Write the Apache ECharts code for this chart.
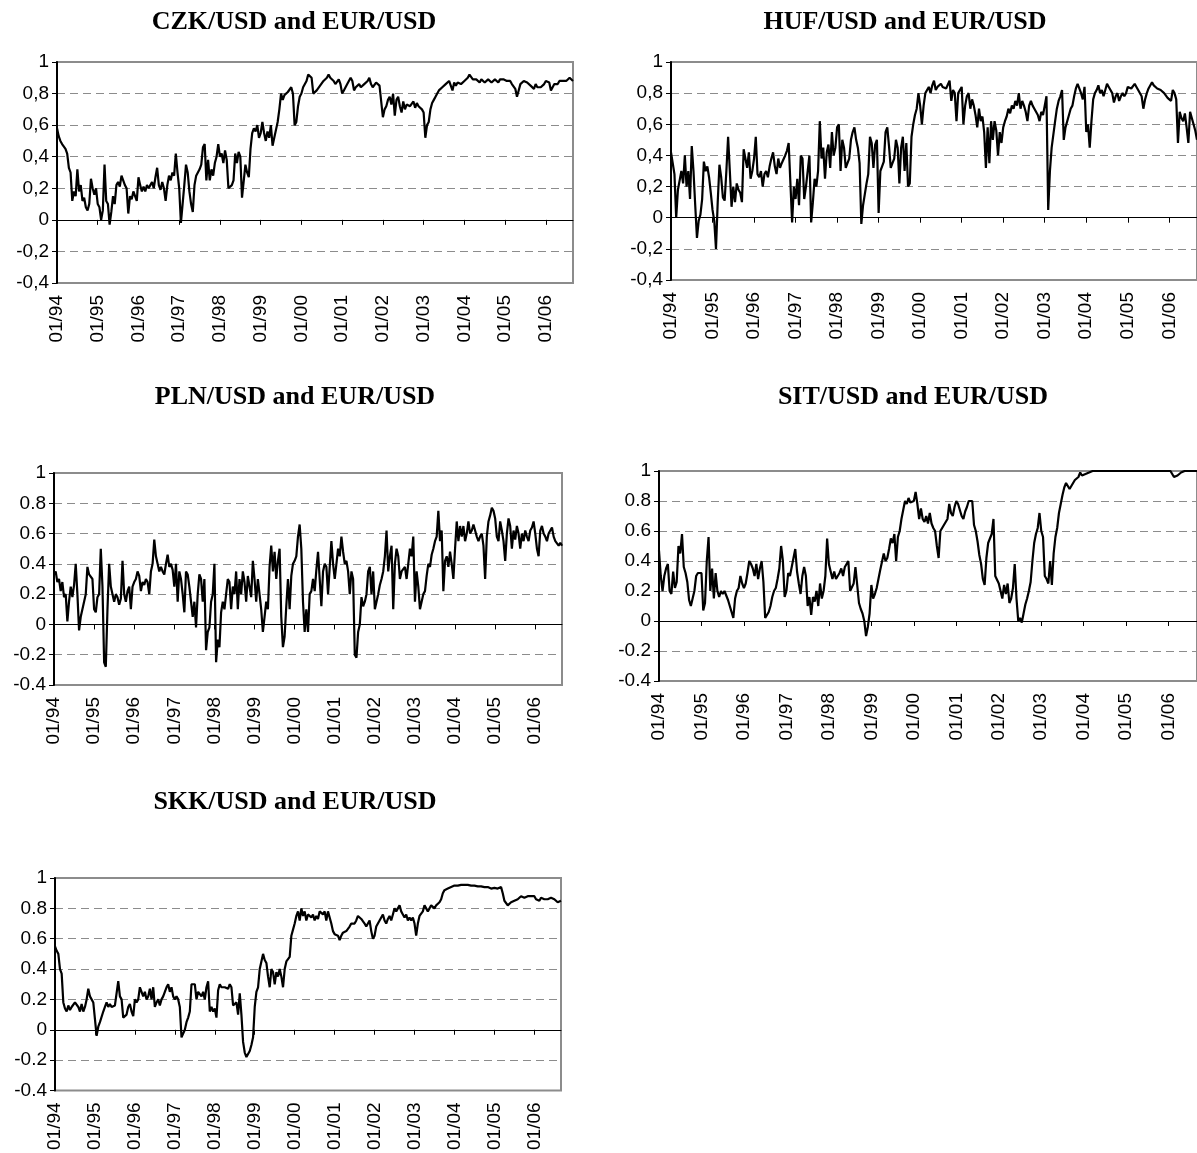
<!DOCTYPE html>
<html>
<head>
<meta charset="utf-8">
<script src="https://cdn.jsdelivr.net/npm/echarts@6/dist/echarts.min.js"></script>
<style>
  html, body { margin: 0; padding: 0; background: #fff; }
  #chart { width: 1197px; height: 1153px; }
</style>
</head>
<body>
<div id="chart"></div>
<script>
// Half-monthly rolling correlations with EUR/USD, Jan 1994 - Aug 2006
const START_YEAR = 1994;
const STEP = 1 / 24;
const END_YEAR = 2006 + 2 / 3;

const yearTicks = [1994, 1995, 1996, 1997, 1998, 1999, 2000, 2001, 2002, 2003, 2004, 2005, 2006];
const yearLabels = ['01/94', '01/95', '01/96', '01/97', '01/98', '01/99', '01/00', '01/01', '01/02', '01/03', '01/04', '01/05', '01/06'];

const czk = [
  0.58,0.53,0.50,0.48,0.47,0.45,0.42,0.33,0.30,0.12,0.18,0.15,0.32,0.18,0.22,0.12,0.14,0.08,0.06,0.10,0.26,0.20,0.16,0.20,
  0.10,0.08,0.00,0.06,0.35,0.12,0.10,-0.03,0.05,0.15,0.10,0.22,0.24,0.21,0.28,0.25,0.22,0.20,0.04,0.15,0.13,0.18,0.15,0.12,
  0.27,0.22,0.18,0.21,0.18,0.22,0.20,0.22,0.24,0.20,0.27,0.33,0.22,0.19,0.24,0.20,0.12,0.22,0.28,0.25,0.30,0.28,0.42,0.30,
  0.20,-0.02,0.10,0.22,0.35,0.30,0.18,0.10,0.05,0.22,0.28,0.30,0.32,0.35,0.46,0.48,0.25,0.38,0.25,0.32,0.28,0.36,0.40,0.48,
  0.40,0.42,0.36,0.44,0.38,0.20,0.19,0.22,0.25,0.42,0.36,0.43,0.40,0.14,0.13,0.35,0.30,0.27,0.45,0.55,0.58,0.56,0.60,0.52,
  0.55,0.62,0.55,0.50,0.56,0.52,0.60,0.47,0.52,0.57,0.62,0.70,0.80,0.76,0.79,0.78,0.81,0.80,0.84,0.80,0.60,0.62,0.72,0.78,
  0.80,0.84,0.85,0.88,0.92,0.91,0.90,0.80,0.79,0.82,0.81,0.85,0.86,0.88,0.87,0.90,0.92,0.90,0.91,0.88,0.86,0.87,0.89,0.86,
  0.80,0.82,0.84,0.86,0.85,0.90,0.88,0.82,0.84,0.83,0.86,0.84,0.83,0.86,0.85,0.88,0.90,0.86,0.84,0.85,0.87,0.86,0.85,0.86,
  0.65,0.70,0.72,0.76,0.78,0.73,0.80,0.66,0.76,0.78,0.72,0.68,0.75,0.70,0.73,0.74,0.72,0.73,0.75,0.71,0.74,0.72,0.73,0.70,
  0.68,0.52,0.60,0.62,0.70,0.74,0.76,0.78,0.80,0.82,0.83,0.84,0.85,0.86,0.85,0.88,0.89,0.82,0.87,0.85,0.87,0.88,0.86,0.87,
  0.88,0.87,0.90,0.92,0.91,0.89,0.88,0.89,0.88,0.87,0.89,0.88,0.87,0.88,0.89,0.88,0.87,0.88,0.89,0.88,0.87,0.89,0.88,0.89,
  0.90,0.88,0.87,0.88,0.86,0.87,0.83,0.78,0.82,0.86,0.87,0.88,0.89,0.87,0.86,0.85,0.84,0.83,0.86,0.84,0.85,0.84,0.85,0.86,
  0.88,0.89,0.87,0.82,0.83,0.86,0.87,0.86,0.88,0.87,0.88,0.87,0.88,0.89,0.90,0.89,0.88
];

const huf = [
  0.42,0.35,0.28,0.00,0.18,0.24,0.30,0.22,0.40,0.20,0.30,0.12,0.46,0.30,0.08,-0.13,-0.02,0.02,0.12,0.36,0.30,0.33,0.26,0.16,
  0.05,-0.02,-0.20,0.10,0.34,0.26,0.13,0.11,0.30,0.52,0.30,0.07,0.20,0.10,0.22,0.18,0.16,0.10,0.44,0.38,0.32,0.42,0.25,0.30,
  0.38,0.52,0.28,0.26,0.30,0.20,0.28,0.30,0.26,0.33,0.38,0.42,0.33,0.28,0.38,0.32,0.35,0.36,0.40,0.43,0.48,0.47,-0.03,0.20,
  0.12,0.25,0.08,0.40,0.38,0.12,0.20,0.30,0.40,-0.03,0.10,0.25,0.20,0.30,0.62,0.38,0.45,0.25,0.42,0.47,0.32,0.55,0.40,0.45,
  0.58,0.60,0.30,0.50,0.45,0.32,0.35,0.38,0.50,0.55,0.58,0.50,0.45,0.35,-0.04,0.08,0.15,0.22,0.28,0.52,0.48,0.32,0.47,0.50,
  0.03,0.30,0.33,0.36,0.55,0.58,0.46,0.32,0.35,0.38,0.50,0.45,0.22,0.45,0.52,0.30,0.48,0.20,0.22,0.52,0.60,0.66,0.70,0.80,
  0.72,0.60,0.72,0.80,0.82,0.84,0.80,0.85,0.88,0.82,0.84,0.85,0.86,0.84,0.85,0.83,0.83,0.88,0.75,0.82,0.80,0.62,0.80,0.82,
  0.84,0.60,0.72,0.78,0.80,0.70,0.76,0.72,0.66,0.58,0.70,0.62,0.65,0.55,0.32,0.58,0.35,0.62,0.50,0.62,0.56,0.40,0.55,0.48,
  0.58,0.62,0.65,0.70,0.67,0.72,0.70,0.75,0.72,0.80,0.70,0.75,0.72,0.68,0.62,0.72,0.75,0.72,0.70,0.70,0.66,0.62,0.68,0.66,
  0.72,0.78,0.05,0.30,0.45,0.46,0.62,0.70,0.75,0.78,0.82,0.50,0.58,0.62,0.66,0.70,0.72,0.78,0.83,0.86,0.85,0.80,0.76,0.84,
  0.55,0.60,0.45,0.62,0.76,0.80,0.82,0.85,0.80,0.82,0.78,0.82,0.86,0.84,0.82,0.80,0.74,0.78,0.80,0.75,0.78,0.80,0.78,0.80,
  0.84,0.85,0.83,0.84,0.86,0.84,0.82,0.81,0.78,0.70,0.76,0.80,0.83,0.84,0.87,0.85,0.84,0.83,0.83,0.82,0.82,0.80,0.80,0.77,
  0.76,0.75,0.82,0.80,0.76,0.48,0.68,0.64,0.62,0.67,0.58,0.48,0.68,0.64,0.60,0.56,0.50
];

const pln = [
  0.33,0.35,0.28,0.30,0.22,0.28,0.18,0.20,0.02,0.15,0.25,0.18,0.26,0.40,0.20,-0.04,0.05,0.10,0.15,0.20,0.38,0.33,0.32,0.30,
  0.10,0.08,0.18,0.20,0.50,0.25,-0.25,-0.28,0.10,0.40,0.25,0.20,0.15,0.20,0.18,0.13,0.17,0.42,0.20,0.15,0.22,0.25,0.10,0.25,
  0.28,0.30,0.35,0.32,0.22,0.28,0.26,0.30,0.28,0.20,0.35,0.40,0.56,0.45,0.40,0.35,0.38,0.35,0.33,0.40,0.46,0.38,0.40,0.36,
  0.25,0.40,0.15,0.35,0.30,0.20,0.08,0.35,0.33,0.25,0.15,0.05,0.15,-0.02,0.20,0.33,0.30,0.15,0.30,-0.17,-0.05,-0.02,0.15,0.20,
  0.40,-0.25,-0.10,-0.15,0.08,0.15,0.10,0.20,0.30,0.28,0.10,0.25,0.20,0.35,0.10,0.30,0.20,0.35,0.28,0.15,0.32,0.25,0.18,0.42,
  0.30,0.15,0.30,0.20,0.10,-0.05,0.05,0.15,0.10,0.38,0.52,0.35,0.48,0.30,0.42,0.50,0.05,-0.15,-0.08,0.12,0.30,0.10,0.32,0.40,
  0.42,0.45,0.58,0.66,0.50,0.15,-0.05,0.10,-0.05,0.20,0.22,0.30,0.22,0.36,0.48,0.30,0.12,0.35,0.40,0.38,0.20,0.38,0.55,0.40,
  0.30,0.40,0.50,0.45,0.58,0.48,0.40,0.42,0.35,0.20,0.35,0.30,-0.20,-0.22,-0.05,0.00,0.18,0.12,0.15,0.20,0.35,0.38,0.20,0.35,
  0.10,0.15,0.20,0.26,0.30,0.35,0.45,0.62,0.35,0.45,0.52,0.10,0.40,0.50,0.45,0.30,0.35,0.36,0.38,0.30,0.40,0.50,0.45,0.58,
  0.15,0.35,0.25,0.10,0.15,0.20,0.22,0.32,0.40,0.38,0.46,0.50,0.55,0.58,0.75,0.55,0.62,0.22,0.42,0.45,0.38,0.48,0.40,0.30,
  0.50,0.68,0.55,0.65,0.58,0.65,0.55,0.60,0.68,0.60,0.62,0.66,0.62,0.58,0.55,0.58,0.60,0.52,0.30,0.58,0.68,0.72,0.77,0.75,
  0.70,0.58,0.55,0.68,0.62,0.55,0.42,0.60,0.70,0.65,0.50,0.62,0.56,0.65,0.60,0.50,0.60,0.55,0.62,0.58,0.55,0.62,0.64,0.68,
  0.60,0.50,0.45,0.62,0.65,0.60,0.58,0.55,0.60,0.62,0.64,0.58,0.55,0.56,0.52,0.54,0.52
];

const sit = [
  0.47,0.30,0.20,0.30,0.35,0.38,0.20,0.18,0.33,0.22,0.26,0.50,0.45,0.58,0.36,0.32,0.26,0.14,0.10,0.15,0.20,0.30,0.32,0.33,
  0.32,0.07,0.12,0.40,0.56,0.20,0.35,0.15,0.32,0.20,0.16,0.20,0.18,0.20,0.17,0.14,0.14,0.06,0.02,0.15,0.20,0.22,0.30,0.25,
  0.22,0.25,0.32,0.40,0.38,0.35,0.30,0.38,0.28,0.35,0.40,0.26,0.02,0.03,0.06,0.10,0.16,0.20,0.22,0.28,0.35,0.50,0.40,0.16,
  0.20,0.32,0.30,0.36,0.42,0.48,0.33,0.25,0.18,0.30,0.36,0.30,0.10,0.16,0.04,0.16,0.13,0.20,0.10,0.25,0.15,0.20,0.30,0.55,
  0.38,0.33,0.28,0.33,0.28,0.30,0.32,0.35,0.30,0.36,0.38,0.40,0.20,0.19,0.25,0.36,0.24,0.12,0.08,0.05,0.00,-0.10,-0.04,0.05,
  0.24,0.15,0.18,0.22,0.28,0.34,0.35,0.45,0.40,0.42,0.48,0.55,0.52,0.58,0.40,0.56,0.60,0.68,0.74,0.80,0.78,0.82,0.79,0.78,
  0.80,0.86,0.78,0.68,0.75,0.68,0.66,0.70,0.65,0.72,0.65,0.62,0.60,0.50,0.42,0.60,0.60,0.64,0.63,0.68,0.78,0.72,0.70,0.76,
  0.80,0.78,0.74,0.70,0.68,0.73,0.76,0.80,0.80,0.80,0.64,0.60,0.53,0.44,0.38,0.28,0.24,0.42,0.52,0.55,0.58,0.68,0.30,0.30,
  0.25,0.20,0.15,0.24,0.18,0.25,0.12,0.15,0.22,0.38,0.15,0.00,0.02,-0.01,0.05,0.11,0.15,0.20,0.26,0.40,0.52,0.58,0.62,0.72,
  0.60,0.56,0.30,0.28,0.25,0.40,0.24,0.45,0.56,0.62,0.72,0.78,0.84,0.89,0.92,0.90,0.88,0.90,0.92,0.94,0.95,0.96,0.99,0.97,
  0.97,0.98,0.99,0.99,1.00,1.00,1.00,1.00,1.00,1.00,1.00,1.00,1.00,1.00,1.00,1.00,1.00,1.00,1.00,1.00,1.00,1.00,1.00,1.00,
  1.00,1.00,1.00,1.00,1.00,1.00,1.00,1.00,1.00,1.00,1.00,1.00,1.00,1.00,1.00,1.00,1.00,1.00,1.00,1.00,1.00,1.00,1.00,1.00,
  1.00,1.00,0.99,0.96,0.96,0.97,0.98,0.99,0.995,1.00,1.00,1.00,1.00,1.00,1.00,1.00,1.00
];

const skk = [
  0.55,0.52,0.50,0.40,0.37,0.18,0.14,0.12,0.16,0.13,0.15,0.14,0.18,0.19,0.15,0.12,0.17,0.12,0.15,0.20,0.27,0.22,0.20,0.18,
  0.17,-0.04,0.02,0.05,0.06,0.12,0.15,0.18,0.15,0.17,0.15,0.16,0.16,0.17,0.32,0.22,0.20,0.08,0.07,0.10,0.15,0.17,0.12,0.09,
  0.20,0.18,0.20,0.28,0.25,0.22,0.25,0.20,0.22,0.27,0.20,0.28,0.15,0.18,0.20,0.16,0.20,0.22,0.25,0.28,0.30,0.25,0.28,0.22,
  0.20,0.22,0.20,0.15,-0.05,-0.05,0.00,0.05,0.08,0.12,0.30,0.30,0.30,0.20,0.25,0.24,0.22,0.25,0.20,0.28,0.32,0.12,0.15,0.12,
  0.14,0.08,0.26,0.30,0.28,0.29,0.28,0.28,0.27,0.30,0.28,0.16,0.15,0.18,0.10,0.24,0.10,-0.08,-0.15,-0.18,-0.19,-0.14,-0.10,-0.05,
  0.15,0.25,0.28,0.40,0.45,0.50,0.46,0.44,0.35,0.28,0.40,0.38,0.30,0.38,0.35,0.40,0.35,0.28,0.40,0.45,0.46,0.48,0.62,0.66,
  0.70,0.75,0.78,0.72,0.80,0.75,0.78,0.72,0.76,0.75,0.74,0.76,0.72,0.75,0.73,0.78,0.79,0.76,0.78,0.72,0.78,0.78,0.70,0.65,
  0.63,0.62,0.62,0.59,0.62,0.64,0.65,0.65,0.66,0.68,0.70,0.69,0.70,0.72,0.75,0.76,0.73,0.72,0.70,0.68,0.70,0.72,0.65,0.60,
  0.62,0.68,0.70,0.72,0.74,0.76,0.72,0.70,0.73,0.75,0.72,0.76,0.80,0.78,0.80,0.82,0.78,0.76,0.74,0.76,0.72,0.74,0.72,0.74,
  0.70,0.62,0.70,0.75,0.76,0.78,0.82,0.80,0.78,0.80,0.82,0.81,0.80,0.82,0.83,0.84,0.86,0.90,0.92,0.92,0.93,0.93,0.94,0.95,
  0.95,0.95,0.95,0.95,0.955,0.955,0.955,0.955,0.955,0.955,0.95,0.95,0.95,0.95,0.945,0.945,0.945,0.945,0.94,0.94,0.94,0.93,0.93,0.935,
  0.935,0.93,0.93,0.935,0.94,0.90,0.85,0.84,0.82,0.83,0.84,0.85,0.85,0.86,0.86,0.87,0.88,0.88,0.87,0.87,0.88,0.87,0.88,0.87,
  0.88,0.86,0.87,0.85,0.87,0.87,0.86,0.86,0.86,0.87,0.87,0.87,0.86,0.85,0.84,0.84,0.85
];

const titles = ['CZK/USD and EUR/USD', 'HUF/USD and EUR/USD', 'PLN/USD and EUR/USD', 'SIT/USD and EUR/USD', 'SKK/USD and EUR/USD'];
const seriesList = [czk, huf, pln, sit, skk];
const commaDecimals = [true, true, false, false, false];

// Panel placement on the page
const layout = [
  { grid: { left: 57,  top: 62,  width: 516, height: 221 }, titleX: 289, titleY: 4 },
  { grid: { left: 671, top: 62,  width: 527, height: 218 }, titleX: 900, titleY: 4 },
  { grid: { left: 54,  top: 473, width: 508, height: 212 }, titleX: 290, titleY: 379 },
  { grid: { left: 659, top: 471, width: 549, height: 210 }, titleX: 908, titleY: 379 },
  { grid: { left: 55,  top: 878, width: 506, height: 215 }, titleX: 290, titleY: 784 }
];

const LABEL_FONT = 'Liberation Sans, Arial, sans-serif';
const LABEL_SIZE = 19;

function yFormatter(comma) {
  return function (v) {
    if (Math.abs(v) < 1e-9) return '0';
    if (Math.abs(v - 1) < 1e-9) return '1';
    const s = v.toFixed(1);
    return comma ? s.replace('.', ',') : s;
  };
}

function xFormatter(v) {
  const r = Math.round(v);
  if (Math.abs(v - r) > 1e-6) return '';
  const k = yearTicks.indexOf(r);
  return k >= 0 ? yearLabels[k] : '';
}

const option = {
  animation: false,
  backgroundColor: '#fff',
  title: [],
  grid: [],
  xAxis: [],
  yAxis: [],
  series: []
};

seriesList.forEach(function (values, k) {
  const L = layout[k];
  option.title.push({
    text: titles[k],
    left: L.titleX,
    top: L.titleY,
    textAlign: 'center',
    textStyle: { fontFamily: 'Liberation Serif, Times New Roman, serif', fontWeight: 'bold', fontSize: 26, color: '#000' }
  });
  option.grid.push(Object.assign({
    show: true,
    borderColor: '#8c8c8c',
    borderWidth: 2,
    backgroundColor: 'transparent',
    containLabel: false
  }, L.grid));

  // Axis drawn along the zero line, carrying the year ticks
  option.xAxis.push({
    gridIndex: k,
    type: 'value',
    position: 'bottom',
    min: START_YEAR,
    max: END_YEAR,
    interval: 1,
    axisLine: { show: true, onZero: true, lineStyle: { color: '#000', width: 1 } },
    axisTick: { show: true, length: 5, customValues: yearTicks, lineStyle: { color: '#000', width: 1 } },
    axisLabel: { show: false },
    splitLine: { show: false }
  });
  // Axis along the bottom edge, carrying the rotated date labels
  option.xAxis.push({
    gridIndex: k,
    type: 'value',
    position: 'bottom',
    min: START_YEAR,
    max: END_YEAR,
    interval: 1,
    axisLine: { show: false, onZero: false },
    axisTick: { show: false },
    axisLabel: {
      show: true,
      rotate: 90,
      margin: 12,
      customValues: yearTicks,
      formatter: xFormatter,
      fontFamily: LABEL_FONT,
      fontSize: LABEL_SIZE,
      color: '#000'
    },
    splitLine: { show: false }
  });
  option.yAxis.push({
    gridIndex: k,
    type: 'value',
    min: -0.4,
    max: 1,
    interval: 0.2,
    axisLine: { show: true, onZero: false, lineStyle: { color: '#000', width: 2 } },
    axisTick: { show: true, length: 5, lineStyle: { color: '#000', width: 1 } },
    axisLabel: {
      formatter: yFormatter(commaDecimals[k]),
      fontFamily: LABEL_FONT,
      fontSize: LABEL_SIZE,
      color: '#000',
      margin: 8
    },
    splitLine: { show: true, lineStyle: { color: '#8c8c8c', width: 1, type: [8, 5] } }
  });
  option.series.push({
    type: 'line',
    xAxisIndex: 2 * k,
    yAxisIndex: k,
    data: values.map(function (v, i) { return [START_YEAR + i * STEP, v]; }),
    showSymbol: false,
    symbol: 'none',
    clip: false,
    lineStyle: { color: '#000', width: 2.2 },
    z: 5
  });
});

const chart = echarts.init(document.getElementById('chart'), null, { renderer: 'canvas' });
chart.setOption(option);
</script>
</body>
</html>
